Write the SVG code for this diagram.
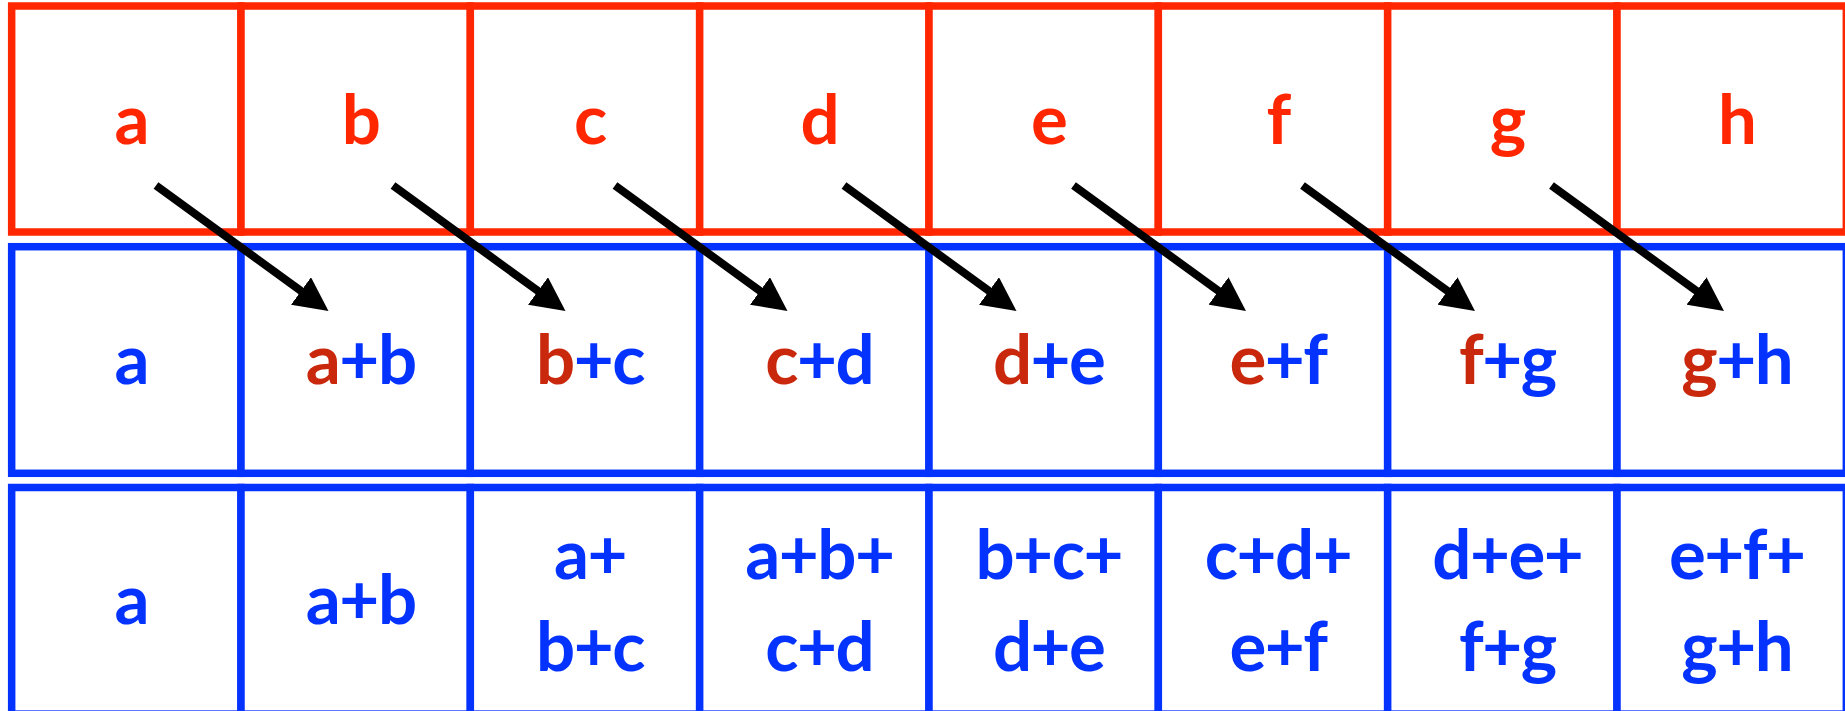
<svg xmlns="http://www.w3.org/2000/svg" width="1845" height="711" viewBox="0 0 1845 711">
<style>
.r1{fill:#fff;stroke:#FF2600;stroke-width:7.5}
.r2{fill:#fff;stroke:#0433FF;stroke-width:7.5}
text{font-family:Lato,"Liberation Sans",sans-serif;font-weight:bold;font-size:69px;text-anchor:middle;letter-spacing:-1.5px}
.tr{fill:#FF2600}
.tb{fill:#0433FF}
.dr{fill:#C9280C}
.arr{stroke:#000;stroke-width:8;fill:none;marker-end:url(#ah)}
</style>
<defs>
<marker id="ah" markerUnits="userSpaceOnUse" markerWidth="34" markerHeight="34" viewBox="0 0 34 34" refX="1" refY="17" orient="auto">
<path d="M0,0 L34,17 L0,34 Z" fill="#000"/>
</marker>
</defs>
<g id="row1">
<g id="r1c0"><rect class="r1" x="11.67" y="6" width="229.33" height="226"/><text class="tr" x="131.3" y="144">a</text></g>
<g id="r1c1"><rect class="r1" x="241" y="6" width="229.33" height="226"/><text class="tr" x="360.7" y="144">b</text></g>
<g id="r1c2"><rect class="r1" x="470.33" y="6" width="229.33" height="226"/><text class="tr" x="590" y="144">c</text></g>
<g id="r1c3"><rect class="r1" x="699.67" y="6" width="229.33" height="226"/><text class="tr" x="819.3" y="144">d</text></g>
<g id="r1c4"><rect class="r1" x="929" y="6" width="229.33" height="226"/><text class="tr" x="1048.7" y="144">e</text></g>
<g id="r1c5"><rect class="r1" x="1158.33" y="6" width="229.33" height="226"/><text class="tr" x="1278" y="144">f</text></g>
<g id="r1c6"><rect class="r1" x="1387.67" y="6" width="229.33" height="226"/><text class="tr" x="1507.3" y="144">g</text></g>
<g id="r1c7"><rect class="r1" x="1617" y="6" width="229.33" height="226"/><text class="tr" x="1736.7" y="144">h</text></g>
</g>
<g id="row2">
<g id="r2c0"><rect class="r2" x="11.67" y="246.7" width="229.33" height="226.6"/><text class="tb" x="131.3" y="383.5">a</text></g>
<g id="r2c1"><rect class="r2" x="241" y="246.7" width="229.33" height="226.6"/><text class="tb" x="360.7" y="383.5"><tspan class="dr">a</tspan>+b</text></g>
<g id="r2c2"><rect class="r2" x="470.33" y="246.7" width="229.33" height="226.6"/><text class="tb" x="590" y="383.5"><tspan class="dr">b</tspan>+c</text></g>
<g id="r2c3"><rect class="r2" x="699.67" y="246.7" width="229.33" height="226.6"/><text class="tb" x="819.3" y="383.5"><tspan class="dr">c</tspan>+d</text></g>
<g id="r2c4"><rect class="r2" x="929" y="246.7" width="229.33" height="226.6"/><text class="tb" x="1048.7" y="383.5"><tspan class="dr">d</tspan>+e</text></g>
<g id="r2c5"><rect class="r2" x="1158.33" y="246.7" width="229.33" height="226.6"/><text class="tb" x="1278" y="383.5"><tspan class="dr">e</tspan>+f</text></g>
<g id="r2c6"><rect class="r2" x="1387.67" y="246.7" width="229.33" height="226.6"/><text class="tb" x="1507.3" y="383.5"><tspan class="dr">f</tspan>+g</text></g>
<g id="r2c7"><rect class="r2" x="1617" y="246.7" width="229.33" height="226.6"/><text class="tb" x="1736.7" y="383.5"><tspan class="dr">g</tspan>+h</text></g>
</g>
<g id="row3">
<g id="r3c0"><rect class="r2" x="11.67" y="487.5" width="229.33" height="226.6"/><text class="tb" x="131.3" y="624">a</text></g>
<g id="r3c1"><rect class="r2" x="241" y="487.5" width="229.33" height="226.6"/><text class="tb" x="360.7" y="624">a+b</text></g>
<g id="r3c2"><rect class="r2" x="470.33" y="487.5" width="229.33" height="226.6"/><text class="tb" x="590" y="578.5">a+</text><text class="tb" x="590" y="670.5">b+c</text></g>
<g id="r3c3"><rect class="r2" x="699.67" y="487.5" width="229.33" height="226.6"/><text class="tb" x="819.3" y="578.5">a+b+</text><text class="tb" x="819.3" y="670.5">c+d</text></g>
<g id="r3c4"><rect class="r2" x="929" y="487.5" width="229.33" height="226.6"/><text class="tb" x="1048.7" y="578.5">b+c+</text><text class="tb" x="1048.7" y="670.5">d+e</text></g>
<g id="r3c5"><rect class="r2" x="1158.33" y="487.5" width="229.33" height="226.6"/><text class="tb" x="1278" y="578.5">c+d+</text><text class="tb" x="1278" y="670.5">e+f</text></g>
<g id="r3c6"><rect class="r2" x="1387.67" y="487.5" width="229.33" height="226.6"/><text class="tb" x="1507.3" y="578.5">d+e+</text><text class="tb" x="1507.3" y="670.5">f+g</text></g>
<g id="r3c7"><rect class="r2" x="1617" y="487.5" width="229.33" height="226.6"/><text class="tb" x="1736.7" y="578.5">e+f+</text><text class="tb" x="1736.7" y="670.5">g+h</text></g>
</g>
<g id="connectors">
<line class="arr" x1="156" y1="185.5" x2="301.8" y2="291.6"/>
<line class="arr" x1="393" y1="185.5" x2="538.8" y2="291.6"/>
<line class="arr" x1="615" y1="185.5" x2="760.8" y2="291.6"/>
<line class="arr" x1="844" y1="185.5" x2="989.8" y2="291.6"/>
<line class="arr" x1="1073.5" y1="185.5" x2="1219.3" y2="291.6"/>
<line class="arr" x1="1302.5" y1="185.5" x2="1448.3" y2="291.6"/>
<line class="arr" x1="1551.5" y1="185.5" x2="1697.3" y2="291.6"/>
</g>
</svg>
